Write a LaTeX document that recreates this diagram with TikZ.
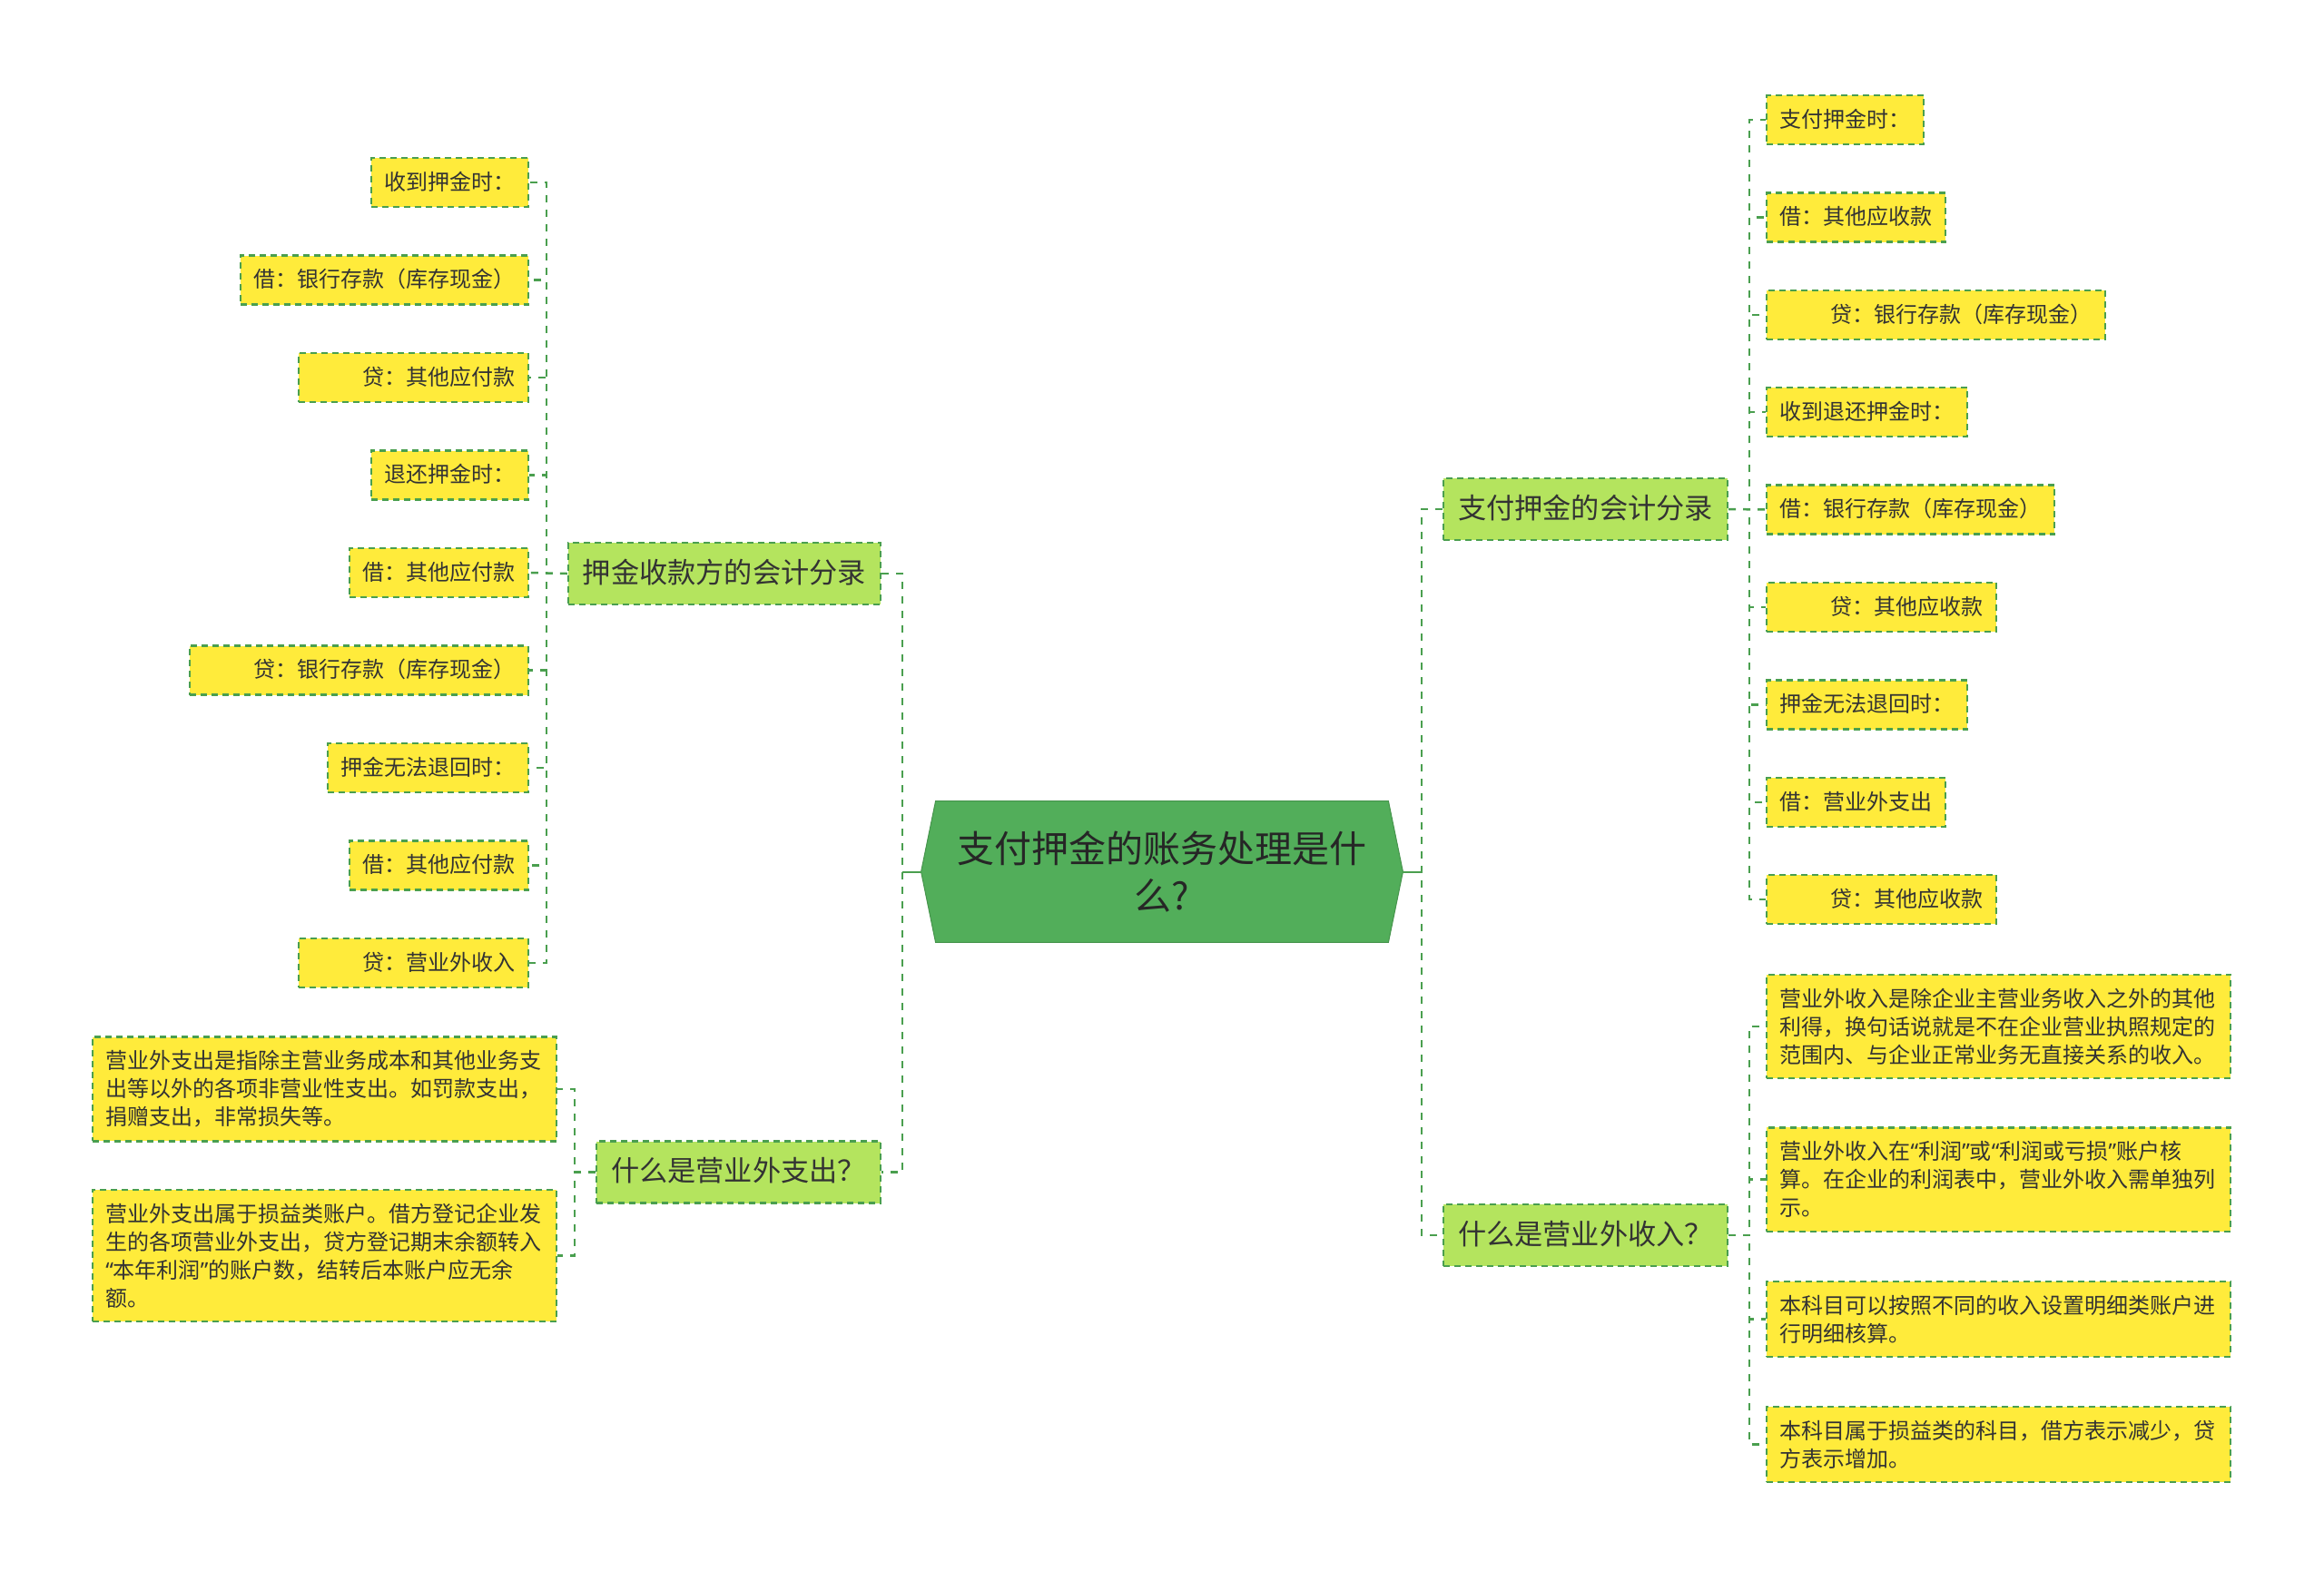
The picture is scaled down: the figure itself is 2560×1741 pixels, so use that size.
\documentclass[tikz,border=0pt]{standalone}
\usepackage{fontspec}
\setmainfont{Noto Sans CJK SC}
\newfontfamily\latinq{Noto Sans}
\usetikzlibrary{backgrounds}

\definecolor{rootgreen}{HTML}{52AE5A}
\definecolor{branchgreen}{HTML}{B4E45E}
\definecolor{leafyellow}{HTML}{FFEB3B}
\definecolor{linegreen}{HTML}{4A9F4F}
\definecolor{textgrey}{HTML}{333333}

% 引號用窄字形
\newcommand\yinhao[1]{{\latinq “}#1{\latinq ”}}

\tikzset{
  link/.style={draw=linegreen, line width=1.25pt, dash pattern=on 4pt off 4pt},
  rootlink/.style={draw=linegreen, line width=1pt},
  rootbox/.style={minimum width=249pt, minimum height=77.5pt, inner sep=0pt,
    align=center, text=black!85, font=\fontsize{20.5pt}{26pt}\selectfont},
  branchbox/.style={draw=linegreen, fill=branchgreen, line width=1.1pt,
    dash pattern=on 3.5pt off 2.5pt, inner xsep=8pt, inner ysep=9pt,
    text height=13pt, text depth=3pt, text=textgrey,
    font=\fontsize{15.6pt}{19pt}\selectfont},
  leafbox/.style={draw=linegreen, fill=leafyellow, line width=1.1pt,
    dash pattern=on 3.5pt off 2.5pt, inner xsep=7.3pt, inner ysep=7pt,
    text height=10.5pt, text depth=2.5pt, text=textgrey,
    font=\fontsize{12pt}{15.5pt}\selectfont},
  notebox/.style={leafbox, text height=, text depth=, inner ysep=7.5pt,
    text width=241pt, align=left},
}

\begin{document}
\begin{tikzpicture}[x=0.5pt, y=-0.5pt]
    \useasboundingbox (0,0) rectangle (2560,1741);

    % 中心節點
    \node[rootbox] (root) at (1280,960.5) {支付押金的账务处理是什\\么?};
    \coordinate (rootl) at ([xshift=-8pt]root.west);
    \coordinate (rootr) at ([xshift=8pt]root.east);
    \begin{scope}[on background layer]
        \fill[white] (0,0) rectangle (2560,1741);
        \filldraw[fill=rootgreen, draw=rootgreen!85!black, line width=0.5pt]
            (rootl) -- (root.north west) -- (root.north east) -- (rootr)
            -- (root.south east) -- (root.south west) -- cycle;
    \end{scope}

    % 左側分支
    \node[branchbox, anchor=east] (shoukuan) at (971,632) {押金收款方的会计分录};
    \node[branchbox, anchor=east] (zhichu) at (971,1291.5) {什么是营业外支出？};

    % 右側分支
    \node[branchbox, anchor=west] (zhifu) at (1589,561) {支付押金的会计分录};
    \node[branchbox, anchor=west] (shouru) at (1589,1361) {什么是营业外收入？};

    % 押金收款方的葉節點
    \node[leafbox, anchor=east] (sk1) at (583,201) {收到押金时：};
    \node[leafbox, anchor=east] (sk2) at (583,308.5) {借：银行存款（库存现金）};
    \node[leafbox, anchor=east] (sk3) at (583,416) {\hspace*{28pt}贷：其他应付款};
    \node[leafbox, anchor=east] (sk4) at (583,523.5) {退还押金时：};
    \node[leafbox, anchor=east] (sk5) at (583,631) {借：其他应付款};
    \node[leafbox, anchor=east] (sk6) at (583,738.5) {\hspace*{28pt}贷：银行存款（库存现金）};
    \node[leafbox, anchor=east] (sk7) at (583,846) {押金无法退回时：};
    \node[leafbox, anchor=east] (sk8) at (583,953.5) {借：其他应付款};
    \node[leafbox, anchor=east] (sk9) at (583,1061) {\hspace*{28pt}贷：营业外收入};

    % 營業外支出的說明
    \node[notebox, anchor=east] (zc1) at (614,1200) {营业外支出是指除主营业务成本和其他业务支\\出等以外的各项非营业性支出。如罚款支出，\\捐赠支出，非常损失等。};
    \node[notebox, anchor=east] (zc2) at (614,1383.5) {营业外支出属于损益类账户。借方登记企业发\\生的各项营业外支出，贷方登记期末余额转入\\\yinhao{本年利润}的账户数，结转后本账户应无余\\额。};

    % 支付押金的葉節點
    \node[leafbox, anchor=west] (zf1) at (1945,132) {支付押金时：};
    \node[leafbox, anchor=west] (zf2) at (1945,239.5) {借：其他应收款};
    \node[leafbox, anchor=west] (zf3) at (1945,347) {\hspace*{28pt}贷：银行存款（库存现金）};
    \node[leafbox, anchor=west] (zf4) at (1945,454) {收到退还押金时：};
    \node[leafbox, anchor=west] (zf5) at (1945,561.5) {借：银行存款（库存现金）};
    \node[leafbox, anchor=west] (zf6) at (1945,669) {\hspace*{28pt}贷：其他应收款};
    \node[leafbox, anchor=west] (zf7) at (1945,776.5) {押金无法退回时：};
    \node[leafbox, anchor=west] (zf8) at (1945,884) {借：营业外支出};
    \node[leafbox, anchor=west] (zf9) at (1945,991) {\hspace*{28pt}贷：其他应收款};

    % 營業外收入的說明
    \node[notebox, anchor=west] (sr1) at (1945,1131) {营业外收入是除企业主营业务收入之外的其他\\利得，换句话说就是不在企业营业执照规定的\\范围内、与企业正常业务无直接关系的收入。};
    \node[notebox, anchor=west] (sr2) at (1945,1299.5) {营业外收入在\yinhao{利润}或\yinhao{利润或亏损}账户核\\算。在企业的利润表中，营业外收入需单独列\\示。};
    \node[notebox, anchor=west] (sr3) at (1945,1453.5) {本科目可以按照不同的收入设置明细类账户进\\行明细核算。};
    \node[notebox, anchor=west] (sr4) at (1945,1591.5) {本科目属于损益类的科目，借方表示减少，贷\\方表示增加。};

    % 畫出連線
    \draw[rootlink] (rootl) -- ++(-21,0);
    \draw[rootlink] (rootr) -- ++(21,0);
    \draw[link] (shoukuan.east) -- ++(23,0) |- (zhichu.east);
    \draw[link] (zhifu.west) -- ++(-23,0) |- (shouru.west);

    \draw[link] (shoukuan.west) -- ++(-23,0) |- (sk1.east);
    \draw[link] (shoukuan.west) -- ++(-23,0) |- (sk2.east);
    \draw[link] (shoukuan.west) -- ++(-23,0) |- (sk3.east);
    \draw[link] (shoukuan.west) -- ++(-23,0) |- (sk4.east);
    \draw[link] (shoukuan.west) -- (sk5.east);
    \draw[link] (shoukuan.west) -- ++(-23,0) |- (sk6.east);
    \draw[link] (shoukuan.west) -- ++(-23,0) |- (sk7.east);
    \draw[link] (shoukuan.west) -- ++(-23,0) |- (sk8.east);
    \draw[link] (shoukuan.west) -- ++(-23,0) |- (sk9.east);

    \draw[link] (zhichu.west) -- ++(-23,0) |- (zc1.east);
    \draw[link] (zhichu.west) -- ++(-23,0) |- (zc2.east);

    \draw[link] (zhifu.east) -- ++(23,0) |- (zf1.west);
    \draw[link] (zhifu.east) -- ++(23,0) |- (zf2.west);
    \draw[link] (zhifu.east) -- ++(23,0) |- (zf3.west);
    \draw[link] (zhifu.east) -- ++(23,0) |- (zf4.west);
    \draw[link] (zhifu.east) -- (zf5.west);
    \draw[link] (zhifu.east) -- ++(23,0) |- (zf6.west);
    \draw[link] (zhifu.east) -- ++(23,0) |- (zf7.west);
    \draw[link] (zhifu.east) -- ++(23,0) |- (zf8.west);
    \draw[link] (zhifu.east) -- ++(23,0) |- (zf9.west);

    \draw[link] (shouru.east) -- ++(23,0) |- (sr1.west);
    \draw[link] (shouru.east) -- ++(23,0) |- (sr2.west);
    \draw[link] (shouru.east) -- ++(23,0) |- (sr3.west);
    \draw[link] (shouru.east) -- ++(23,0) |- (sr4.west);
\end{tikzpicture}
\end{document}
